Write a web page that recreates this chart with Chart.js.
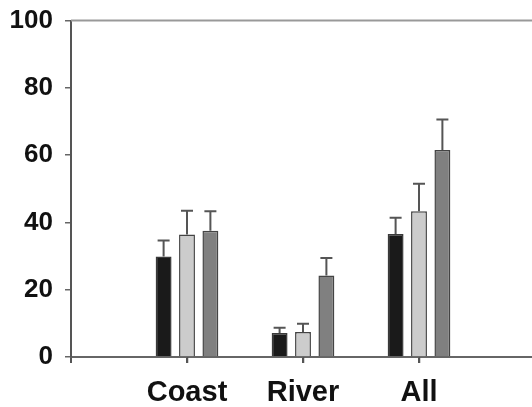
<!DOCTYPE html>
<html>
<head>
<meta charset="utf-8">
<script src="https://cdn.jsdelivr.net/npm/chart.js@4.4.1/dist/chart.umd.min.js"></script>
<style>
  html, body { margin: 0; padding: 0; background: #fff; overflow: hidden; }
  #wrap { width: 548px; height: 414px; margin-top: -7px; }
</style>
</head>
<body>
<div id="wrap"><canvas id="myChart" width="548" height="414"></canvas></div>
<script>
// categories (empty ones at the ends keep the groups where the original put them)
var categories = ['', 'Coast', 'River', 'All', ''];

// bar heights
var blackVals = [null, 29.9, 7.1, 36.6, null];
var lightVals = [null, 36.4, 7.4, 43.3, null];
var darkVals  = [null, 37.5, 24.2, 61.5, null];

// upper error bars (size above the bar)
var blackErr = [null, 4.7, 1.6, 4.8, null];
var lightErr = [null, 7.1, 2.5, 8.2, null];
var darkErr  = [null, 5.8, 5.2, 9.1, null];

var yTicks = [0, 20, 40, 60, 80, 100];

// draws the upward error bars from the scale values
var errorBars = {
  id: 'errorBars',
  afterDatasetsDraw: function(chart) {
    var ctx = chart.ctx;
    var yScale = chart.scales.y;
    ctx.save();
    ctx.strokeStyle = '#555555';
    ctx.lineWidth = 2;
    chart.data.datasets.forEach(function(ds, d) {
      var meta = chart.getDatasetMeta(d);
      ds.data.forEach(function(v, i) {
        if (v === null) return;
        var bar = meta.data[i];
        var top = yScale.getPixelForValue(v + ds.errors[i]);
        ctx.beginPath();
        ctx.moveTo(bar.x, bar.y);
        ctx.lineTo(bar.x, top);
        ctx.moveTo(bar.x - 6, top);
        ctx.lineTo(bar.x + 6, top);
        ctx.stroke();
      });
    });
    ctx.restore();
  }
};

// top line of the frame + small tick marks under the category names
var frameTop = {
  id: 'frameTop',
  afterDraw: function(chart) {
    var a = chart.chartArea;
    var ctx = chart.ctx;
    var xScale = chart.scales.x;
    ctx.save();
    ctx.strokeStyle = '#999999';
    ctx.lineWidth = 2;
    ctx.beginPath();
    ctx.moveTo(a.left, a.top);
    ctx.lineTo(a.right + 10, a.top);
    ctx.stroke();
    ctx.strokeStyle = '#555555';
    ctx.lineWidth = 1.5;
    ctx.beginPath();
    for (var i = 1; i < categories.length - 1; i++) {
      var px = Math.round(xScale.getPixelForTick(i)) + 0.5;
      ctx.moveTo(px, a.bottom);
      ctx.lineTo(px, a.bottom + 6);
    }
    ctx.stroke();
    ctx.restore();
  }
};

var ctx = document.getElementById('myChart').getContext('2d');
var chart = new Chart(ctx, {
  type: 'bar',
  data: {
    labels: categories,
    datasets: [
      { data: blackVals, errors: blackErr, backgroundColor: '#1a1a1a', borderColor: '#3a3a3a', borderWidth: 1.5 },
      { data: lightVals, errors: lightErr, backgroundColor: '#cccccc', borderColor: '#444444', borderWidth: 1.5 },
      { data: darkVals,  errors: darkErr,  backgroundColor: '#808080', borderColor: '#444444', borderWidth: 1.5 }
    ]
  },
  options: {
    responsive: false,
    animation: false,
    categoryPercentage: 0.605,
    barPercentage: 0.68,
    layout: { padding: { left: 0, right: 2, top: 0, bottom: 0 } },
    plugins: { legend: { display: false }, tooltip: { enabled: false } },
    scales: {
      x: {
        offset: false,
        grid: { offset: false, drawOnChartArea: false, drawTicks: true, tickLength: 6, color: '#555555', lineWidth: 2 },
        border: { color: '#666666', width: 2 },
        ticks: {
          color: '#111111',
          padding: 13,
          maxRotation: 0,
          autoSkip: false,
          font: { family: 'Liberation Sans, Arial, sans-serif', size: 29, weight: 'bold' }
        },
        afterFit: function(scale) { scale.height = 50; }
      },
      y: {
        min: 0,
        max: 100,
        afterBuildTicks: function(scale) {
          scale.ticks = yTicks.map(function(v) { return { value: v }; });
        },
        grid: { drawOnChartArea: false, tickLength: 6, color: '#666666', lineWidth: 1.5 },
        border: { color: '#555555', width: 2 },
        ticks: {
          color: '#111111',
          padding: 12,
          font: { family: 'Liberation Sans, Arial, sans-serif', size: 26, weight: 'bold' }
        },
        afterFit: function(scale) { scale.width = 71; }
      }
    }
  },
  plugins: [errorBars, frameTop]
});
</script>
</body>
</html>
